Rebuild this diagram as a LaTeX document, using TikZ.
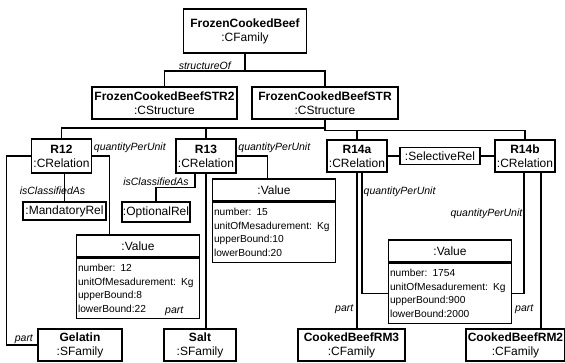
\documentclass[tikz,border=0pt]{standalone}
\usepackage{fontspec}
\setmainfont{Liberation Sans}
\usetikzlibrary{positioning}

\begin{document}
\begin{tikzpicture}[x=1pt, y=-1pt,
    thing/.style={draw=black, line width=1.4pt, align=center, inner xsep=2pt, inner ysep=1pt, font=\fontsize{12}{14}\selectfont},
    flatnode/.style={draw=black, line width=1.4pt, inner sep=1pt, font=\fontsize{12}{14}\selectfont},
    valhead/.style={draw=black, line width=1.4pt, minimum width=123pt, minimum height=22pt, inner sep=1pt, font=\fontsize{12}{14}\selectfont},
    valbody/.style={draw=black, line width=1.4pt, text width=120pt, minimum height=60pt, align=left, inner xsep=1.5pt, font=\fontsize{10.2}{13.5}\selectfont},
    lbl/.style={font=\itshape\fontsize{10.5}{12}\selectfont, inner sep=1pt},
    conn/.style={draw=black, line width=1.4pt}
    ]
    \useasboundingbox (0,0) rectangle (565,363);

    \node[thing, minimum width=123pt, minimum height=44pt] (fcb)  at (245,31)    {\textbf{FrozenCookedBeef}\\:CFamily};
    \node[thing, minimum width=145pt, minimum height=32pt] (str2) at (164.5,103) {\textbf{FrozenCookedBeefSTR2}\\:CStructure};
    \node[thing, minimum width=146pt, minimum height=32pt] (str)  at (325,103)   {\textbf{FrozenCookedBeefSTR}\\:CStructure};

    \node[thing, minimum width=59pt, minimum height=34pt] (r12)  at (61.5,156) {\textbf{R12}\\:CRelation};
    \node[thing, minimum width=60pt, minimum height=34pt] (r13)  at (206,156)  {\textbf{R13}\\:CRelation};
    \node[thing, minimum width=60pt, minimum height=32pt] (r14a) at (357,156)  {\textbf{R14a}\\:CRelation};
    \node[thing, minimum width=60pt, minimum height=32pt] (r14b) at (525,156)  {\textbf{R14b}\\:CRelation};

    \node[flatnode, minimum width=80pt, minimum height=17pt] (sel)  at (440,156)  {:SelectiveRel};
    \node[flatnode, minimum width=83pt, minimum height=18pt] (mand) at (64.5,211) {:MandatoryRel};
    \node[flatnode, minimum width=64pt, minimum height=20pt] (opt)  at (156,212)  {:OptionalRel};

    \node[valhead] (val1) at (138,246) {:Value};
    \node[valbody, below=0pt of val1] (val1b) {number: 12\\unitOfMesadurement: Kg\\upperBound:8\\lowerBound:22};
    \node[valhead] (val2) at (274,190) {:Value};
    \node[valbody, below=0pt of val2] (val2b) {number: 15\\unitOfMesadurement: Kg\\upperBound:10\\lowerBound:20};
    \node[valhead] (val3) at (450,251) {:Value};
    \node[valbody, below=0pt of val3] (val3b) {number: 1754\\unitOfMesadurement: Kg\\upperBound:900\\lowerBound:2000};

    \node[thing, minimum width=84pt, minimum height=32pt]  (gel)  at (80,345)    {\textbf{Gelatin}\\:SFamily};
    \node[thing, minimum width=72pt, minimum height=32pt]  (salt) at (200,345)   {\textbf{Salt}\\:SFamily};
    \node[thing, minimum width=107pt, minimum height=32pt] (rm3)  at (351.5,345) {\textbf{CookedBeefRM3}\\:CFamily};
    \node[thing, minimum width=97pt, minimum height=32pt]  (rm2)  at (515.5,345) {\textbf{CookedBeefRM2}\\:CFamily};

    % structure
    \coordinate (topbus) at (245,71);
    \coordinate (lbus) at (325,128);
    \coordinate (rbus) at (325,130.5);
    \draw[conn] (fcb.south) -- (topbus) -| node[lbl, above, pos=0.25] {structureOf} (str2.north);
    \draw[conn] (topbus) -| (str.north);
    \draw[conn] (str.south) -- (rbus) -| (r14b.north);
    \draw[conn] (rbus) -| (r14a.north);
    \draw[conn] (lbus) -| (r12.north);
    \draw[conn] (lbus) -| (r13.north);

    % R12
    \draw[conn] (r12.west) -- ++(-24,0) |- node[lbl, above, pos=0.78] {part} (gel.west);
    \draw[conn] (r12.east) node[lbl, above right, yshift=2pt] {quantityPerUnit} -- ++(17,0) coordinate (qa) -- (qa |- val1.north);
    \draw[conn] (r12.south -| mand.north) -- node[lbl, pos=0.62, xshift=-12pt] {isClassifiedAs} (mand.north);

    % R13
    \draw[conn] (r13.south) ++(-11,0) -- ++(0,14) -| node[lbl, above, pos=0.5] {isClassifiedAs} (opt.north);
    \draw[conn] (r13.south) -- node[lbl, pos=0.89, left=21pt] {part} (r13.south |- salt.north);
    \draw[conn] (r13.east) node[lbl, above right, yshift=2pt] {quantityPerUnit} -- ++(31,0) coordinate (qb) -- (qb |- val2.north);

    % R14a and R14b
    \draw[conn] (r14a.east) -- (sel.west);
    \draw[conn] (sel.east) -- (r14b.west);
    \draw[conn] (r14a.south) -- node[lbl, pos=0.88, left=2pt] {part} (r14a.south |- rm3.north);
    \draw[conn] (r14a.south) ++(5,0) |- node[lbl, right, pos=0.08] {quantityPerUnit} (val3b.west);
    \draw[conn] (r14b.south) ++(-1,0) |- node[lbl, left, pos=0.17] {quantityPerUnit} (val3b.east);
    \draw[conn] (r14b.south) ++(16,0) coordinate (pb) -- node[lbl, pos=0.88, left=6pt] {part} (pb |- rm2.north);
\end{tikzpicture}
\end{document}
